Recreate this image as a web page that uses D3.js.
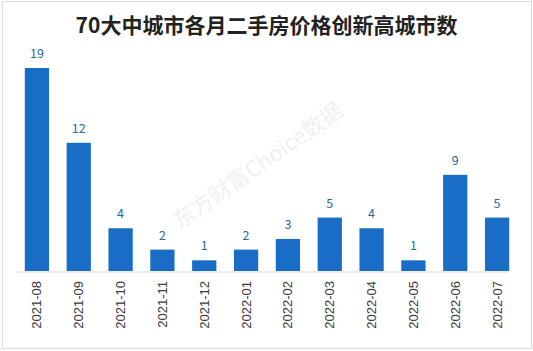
<!DOCTYPE html>
<html>
<head>
<meta charset="utf-8">
<script src="https://cdn.jsdelivr.net/npm/d3@7/dist/d3.min.js"></script>
<style>
  html, body { margin: 0; padding: 0; background: #fff; }
  #chart { width: 533px; height: 351px; }
  text { font-family: "Microsoft YaHei", "Noto Sans CJK SC", sans-serif; }
</style>
</head>
<body>
<div id="chart"></div>
<script>
const MONTHS = ['2021-08', '2021-09', '2021-10', '2021-11', '2021-12', '2022-01', '2022-02', '2022-03', '2022-04', '2022-05', '2022-06', '2022-07'];
const COUNTS = [19, 12, 4, 2, 1, 2, 3, 5, 4, 1, 9, 5];
const TITLE = '70大中城市各月二手房价格创新高城市数';
const WATERMARK = '东方财富Choice数据';

const W = 533, H = 351, M = { t: 68, r: 15, b: 80, l: 16 };
const svg = d3.select('#chart').append('svg').attr('width', W).attr('height', H);

// outer frame
svg.append('rect').attr('x', 2.5).attr('y', 1.5).attr('width', W - 4).attr('height', H - 4)
  .attr('fill', 'none').attr('stroke', '#dcdcdc').attr('stroke-width', 1);

svg.append('text').attr('x', W / 2).attr('y', 33).attr('text-anchor', 'middle')
  .style('font-size', '21px').style('font-weight', 700).attr('fill', '#222').text(TITLE);

// watermark
svg.append('text').attr('transform', 'translate(262,172) rotate(-35)').attr('text-anchor', 'middle')
  .style('font-size', '22px').attr('fill', '#f0f0f0').text(WATERMARK);

const x = d3.scaleBand().domain(MONTHS).range([M.l, W - M.r]).paddingInner(0.42).paddingOuter(0.21);
const y = d3.scaleLinear().domain([0, d3.max(COUNTS)]).range([H - M.b, M.t]);
const base = H - M.b;

svg.append('g').selectAll('rect').data(MONTHS).enter().append('rect')
  .attr('x', d => x(d)).attr('width', x.bandwidth())
  .attr('y', (d, i) => y(COUNTS[i])).attr('height', (d, i) => base - y(COUNTS[i]))
  .attr('fill', '#1a6dc6');

svg.append('g').selectAll('text').data(MONTHS).enter().append('text')
  .attr('x', d => x(d) + x.bandwidth() / 2).attr('y', (d, i) => y(COUNTS[i]) - 10)
  .attr('text-anchor', 'middle').style('font-size', '12.5px').attr('fill', '#2d6a93')
  .text((d, i) => COUNTS[i]);

const xAxis = svg.append('g').attr('transform', `translate(0,${base + 1})`)
  .call(d3.axisBottom(x).tickSize(0).tickPadding(0));
xAxis.select('.domain').attr('stroke', '#d9d9d9').attr('d', `M${M.l},0H508`);
xAxis.selectAll('text').attr('transform', 'rotate(-90)').attr('text-anchor', 'end')
  .attr('x', -9).attr('y', 0).attr('dy', '0.35em')
  .style('font-size', '13px').style('font-family', 'Arial, "Liberation Sans", sans-serif').attr('fill', '#3a3a3a');
</script>
</body>
</html>
